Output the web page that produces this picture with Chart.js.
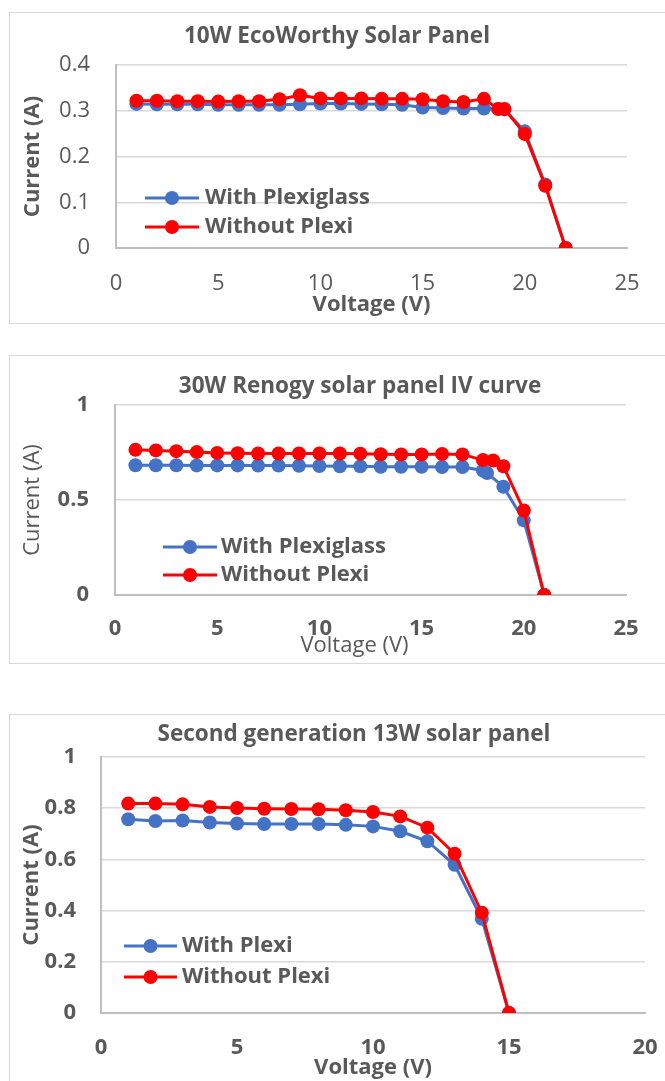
<!DOCTYPE html>
<html>
<head>
<meta charset="utf-8">
<script src="https://cdn.jsdelivr.net/npm/chart.js@4.4.0/dist/chart.umd.min.js"></script>
<style>
  html, body { margin:0; padding:0; background:#fff; overflow:hidden; width:665px; height:1081px; }
  .box { position:absolute; left:9px; border:1px solid #d9d9d9; border-right:none; }
  canvas { display:block; }
</style>
</head>
<body>
<div class="box" style="top:12px;width:655px;height:310px;"><canvas id="c1" width="655" height="310"></canvas></div>
<div class="box" style="top:355px;width:655px;height:307px;"><canvas id="c2" width="655" height="307"></canvas></div>
<div class="box" style="top:714px;width:655px;height:380px;border-bottom:none;"><canvas id="c3" width="655" height="380"></canvas></div>
<script>
// ---------- Data ----------
const SERIES_LABELS_1 = ['With Plexiglass', 'Without Plexi'];
const SERIES_LABELS_2 = ['With Plexiglass', 'Without Plexi'];
const SERIES_LABELS_3 = ['With Plexi', 'Without Plexi'];

const TITLE_1 = '10W EcoWorthy Solar Panel';
const TITLE_2 = '30W Renogy solar panel IV curve';
const TITLE_3 = 'Second generation 13W solar panel';
const X_TITLE = 'Voltage (V)';
const Y_TITLE = 'Current (A)';

// Chart 1: 10W EcoWorthy
const V1 = [1,2,3,4,5,6,7,8,9,10,11,12,13,14,15,16,17,18,18.7,19,20,21,22];
const I1_WITH = [0.315,0.314,0.314,0.314,0.313,0.313,0.313,0.313,0.314,0.316,0.316,0.315,0.314,0.313,0.307,0.306,0.305,0.305,0.304,0.303,0.255,0.139,0];
const I1_WITHOUT = [0.322,0.322,0.321,0.321,0.320,0.321,0.321,0.325,0.334,0.327,0.327,0.327,0.326,0.326,0.325,0.321,0.319,0.326,0.304,0.304,0.249,0.136,0];
const X_TICKS_1 = [0,5,10,15,20,25];
const Y_TICKS_1 = [0,0.1,0.2,0.3,0.4];

// Chart 2: 30W Renogy
const V2_WITH = [1,2,3,4,5,6,7,8,9,10,11,12,13,14,15,16,17,18,18.2,19,20,21];
const I2_WITH = [0.683,0.683,0.683,0.682,0.682,0.682,0.681,0.681,0.680,0.679,0.678,0.677,0.675,0.675,0.675,0.674,0.674,0.655,0.642,0.570,0.393,0];
const V2_WITHOUT = [1,2,3,4,5,6,7,8,9,10,11,12,13,14,15,16,17,18,18.5,19,20,21];
const I2_WITHOUT = [0.764,0.761,0.757,0.752,0.748,0.746,0.745,0.745,0.745,0.745,0.745,0.744,0.741,0.740,0.740,0.742,0.740,0.710,0.708,0.678,0.445,0];
const X_TICKS_2 = [0,5,10,15,20,25];
const Y_TICKS_2 = [0,0.5,1];

// Chart 3: Second generation 13W
const V3 = [1,2,3,4,5,6,7,8,9,10,11,12,13,14,15];
const I3_WITH = [0.757,0.750,0.752,0.744,0.740,0.738,0.738,0.738,0.735,0.729,0.710,0.671,0.579,0.368,0];
const I3_WITHOUT = [0.818,0.818,0.815,0.805,0.801,0.798,0.797,0.796,0.792,0.785,0.768,0.724,0.622,0.392,0];
const X_TICKS_3 = [0,5,10,15,20];
const Y_TICKS_3 = [0,0.2,0.4,0.6,0.8,1];

// ---------- Styling ----------
const GRAY = '#595959';
const BLUE = '#4472C4';
const RED = '#FF0000';
const FONT = '"Open Sans", Lato, sans-serif';
const FS = 22;        // ticks, axis titles, legend
const FS_TITLE = 22.5;
const LH = 1.2;

function pts(xs, ys) { return xs.map((x, i) => ({ x: x, y: ys[i] })); }

// Legend drawn inside the plot area, from the datasets themselves
const inlineLegend = {
  id: 'inlineLegend',
  afterDraw(chart, args, opts) {
    const ctx = chart.ctx;
    ctx.save();
    chart.data.datasets.forEach((ds, i) => {
      const y = opts.rows[i];
      ctx.strokeStyle = ds.borderColor;
      ctx.lineWidth = ds.borderWidth;
      ctx.beginPath(); ctx.moveTo(opts.x0, y); ctx.lineTo(opts.x1, y); ctx.stroke();
      ctx.fillStyle = ds.pointBackgroundColor;
      ctx.beginPath(); ctx.arc((opts.x0 + opts.x1) / 2, y, ds.pointRadius, 0, Math.PI * 2); ctx.fill();
      ctx.fillStyle = GRAY;
      ctx.font = 'bold ' + FS + 'px ' + FONT;
      ctx.textBaseline = 'middle';
      ctx.textAlign = 'left';
      ctx.fillText(ds.label, opts.textX, y);
    });
    ctx.restore();
  }
};

// Re-centre the chart title (and optionally the x-axis title) horizontally
const titleShift = {
  id: 'titleShift',
  afterLayout(chart, args, opts) {
    const tb = chart.titleBlock;
    if (tb && opts && typeof opts.centerX === 'number') {
      const half = 320;
      tb.left = opts.centerX - half;
      tb.right = opts.centerX + half;
    }
    const sc = chart.scales.x;
    if (sc && opts && opts.xTitleDx && !sc._shiftWrapped) {
      const orig = sc.drawTitle;
      const dx = opts.xTitleDx;
      sc.drawTitle = function () {
        const l = this.left, r = this.right;
        this.left = l + dx; this.right = r + dx;
        orig.call(this);
        this.left = l; this.right = r;
      };
      sc._shiftWrapped = true;
    }
  }
};

function dataset(label, xs, ys, color, order) {
  return {
    label: label, data: pts(xs, ys), showLine: true,
    borderColor: color, backgroundColor: color,
    pointBackgroundColor: color, pointBorderColor: color,
    borderWidth: 3, pointRadius: 7, pointBorderWidth: 0, order: order
  };
}

function build(id, s) {
  const canvas = document.getElementById(id);
  const W = canvas.width, H = canvas.height;
  const lh = FS * LH, lhT = FS_TITLE * LH;
  const padRight = W - s.plotRight;
  const yWidth = s.plotLeft;
  const xHeight = H - s.padBottom - s.plotBottom;
  const tPadTop = s.titleY - lhT / 2;
  const tPadBottom = s.plotTop - tPadTop - lhT;
  const yTitlePadTop = s.yTitleX - lh / 2;
  const yTickPad = s.plotLeft - s.yTickRight;
  const xTickPad = s.xTickY - s.plotBottom - lh / 2;
  const xTitlePadBottom = (s.plotBottom + xHeight) - s.xTitleY - lh / 2;

  return new Chart(canvas, {
    type: 'scatter',
    data: { datasets: [
      dataset(s.labels[0], s.xBlue, s.blue, BLUE, 1),
      dataset(s.labels[1], s.xRed, s.red, RED, 0)
    ]},
    plugins: [inlineLegend, titleShift],
    options: {
      responsive: false, animation: false, devicePixelRatio: 1,
      layout: { padding: { left: 0, right: padRight, top: 0, bottom: s.padBottom } },
      plugins: {
        legend: { display: false },
        tooltip: { enabled: false },
        title: {
          display: true, text: s.title, color: GRAY, fullSize: true,
          font: { family: FONT, size: FS_TITLE, weight: 'bold', lineHeight: LH },
          padding: { top: tPadTop, bottom: tPadBottom }
        },
        titleShift: { centerX: s.titleX, xTitleDx: s.xTitleDx || 0 },
        inlineLegend: s.legend
      },
      scales: {
        x: {
          type: 'linear', position: 'bottom',
          min: s.xTicks[0], max: s.xTicks[s.xTicks.length - 1],
          afterBuildTicks: sc => { sc.ticks = s.xTicks.map(v => ({ value: v })); },
          grid: { display: false, drawTicks: false },
          border: { display: true, color: '#bfbfbf', width: 2 },
          ticks: {
            color: GRAY, padding: xTickPad, maxRotation: 0, autoSkip: false,
            font: { family: FONT, size: FS, weight: s.tickWeight, lineHeight: LH },
            callback: v => String(v)
          },
          title: {
            display: true, text: X_TITLE, color: GRAY,
            font: { family: FONT, size: FS, weight: s.axisTitleWeight, lineHeight: LH },
            padding: { top: 0, bottom: xTitlePadBottom }
          },
          afterFit: sc => { sc.height = xHeight; sc.paddingLeft = 0; sc.paddingRight = 0; }
        },
        y: {
          type: 'linear', position: 'left',
          min: s.yTicks[0], max: s.yTicks[s.yTicks.length - 1],
          afterBuildTicks: sc => { sc.ticks = s.yTicks.map(v => ({ value: v })); },
          grid: {
            drawTicks: false,
            color: c => (c.tick && c.tick.value === 0) ? '#bfbfbf' : '#d9d9d9',
            lineWidth: c => (c.tick && c.tick.value === 0) ? 2 : 1.5
          },
          border: { display: true, color: '#bfbfbf', width: 2 },
          ticks: {
            color: GRAY, padding: yTickPad,
            font: { family: FONT, size: FS, weight: s.tickWeight, lineHeight: LH },
            callback: v => String(v)
          },
          title: {
            display: true, text: Y_TITLE, color: GRAY,
            font: { family: FONT, size: FS, weight: s.axisTitleWeight, lineHeight: LH },
            padding: { top: yTitlePadTop, bottom: 0 }
          },
          afterFit: sc => { sc.width = yWidth; }
        }
      }
    }
  });
}

build('c1', {
  labels: SERIES_LABELS_1, title: TITLE_1,
  xBlue: V1, blue: I1_WITH, xRed: V1, red: I1_WITHOUT,
  xTicks: X_TICKS_1, yTicks: Y_TICKS_1,
  plotLeft: 106, plotRight: 617, plotTop: 52, plotBottom: 235, padBottom: 0,
  titleX: 327, titleY: 24, yTitleX: 23, yTickRight: 80, xTickY: 271, xTitleY: 292,
  tickWeight: 'normal', axisTitleWeight: 'bold',
  legend: { x0: 135, x1: 189, rows: [185, 214], textX: 195 }
});

build('c2', {
  labels: SERIES_LABELS_2, title: TITLE_2,
  xBlue: V2_WITH, blue: I2_WITH, xRed: V2_WITHOUT, red: I2_WITHOUT,
  xTicks: X_TICKS_2, yTicks: Y_TICKS_2,
  plotLeft: 105, plotRight: 616, plotTop: 49, plotBottom: 239, padBottom: 0,
  titleX: 350, titleY: 31, yTitleX: 23, yTickRight: 79, xTickY: 273, xTitleY: 290,
  xTitleDx: -16,
  tickWeight: 'bold', axisTitleWeight: 'normal',
  legend: { x0: 153, x1: 207, rows: [191, 219], textX: 211 }
});

build('c3', {
  labels: SERIES_LABELS_3, title: TITLE_3,
  xBlue: V3, blue: I3_WITH, xRed: V3, red: I3_WITHOUT,
  xTicks: X_TICKS_3, yTicks: Y_TICKS_3,
  plotLeft: 91, plotRight: 635, plotTop: 42, plotBottom: 298, padBottom: 12,
  titleX: 344, titleY: 20, yTitleX: 22, yTickRight: 66, xTickY: 333, xTitleY: 353,
  tickWeight: 'bold', axisTitleWeight: 'bold',
  legend: { x0: 114, x1: 167, rows: [231, 262], textX: 172 }
});
</script>
</body>
</html>
